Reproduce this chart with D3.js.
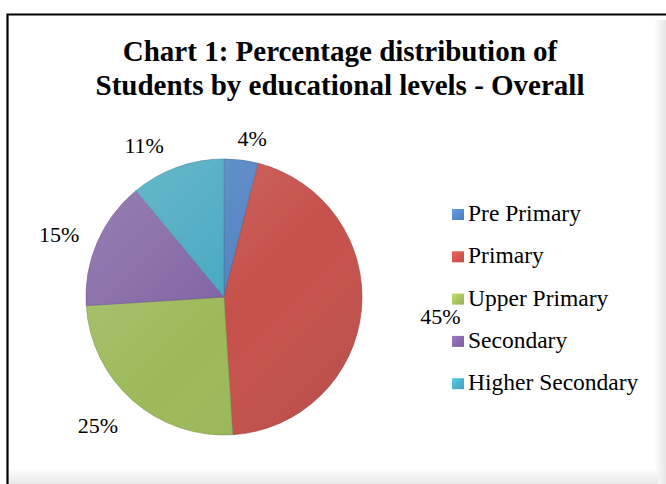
<!DOCTYPE html>
<html>
<head>
<meta charset="utf-8">
<script src="https://cdn.jsdelivr.net/npm/d3@7"></script>
<style>
  body { margin: 0; background: #fff; }
  text { font-family: 'Liberation Serif', 'Times New Roman', serif; fill: #000; }
</style>
</head>
<body>
<div id="vis"></div>
<script>
// chart data
var categories = ['Pre Primary', 'Primary', 'Upper Primary', 'Secondary', 'Higher Secondary'];
var values = [4, 45, 25, 15, 11];
var colors = ['#5589cd', '#d1544f', '#a5c35f', '#8868ad', '#4bb1cc'];
var titleLines = ['Chart 1: Percentage distribution of', 'Students by educational levels - Overall'];

var width = 666;
var height = 484;
var center = { x: 224, y: 297 };
var radius = 138;

// labels were dragged around a bit in the original, these shift them from outside-end
var labelNudge = [[7, 5], [43, 3], [-11, 4], [-5, 3], [-21, 3]];

var svg = d3.select('#vis')
  .append('svg')
  .attr('width', width)
  .attr('height', height);

var defs = svg.append('defs');

// soft shadow along right and bottom edges of the chart frame
var shadowR = defs.append('linearGradient').attr('id', 'shadowR').attr('x1', 0).attr('x2', 1);
shadowR.append('stop').attr('offset', 0).attr('stop-color', '#fff');
shadowR.append('stop').attr('offset', 1).attr('stop-color', '#e6e6e6');
var shadowB = defs.append('linearGradient').attr('id', 'shadowB').attr('x1', 0).attr('x2', 0).attr('y1', 0).attr('y2', 1);
shadowB.append('stop').attr('offset', 0).attr('stop-color', '#fff');
shadowB.append('stop').attr('offset', 1).attr('stop-color', '#e9e9e9');

svg.append('rect')
  .attr('x', 654).attr('y', 20)
  .attr('width', 12).attr('height', 464)
  .attr('fill', 'url(#shadowR)');
svg.append('rect')
  .attr('x', 8).attr('y', 468)
  .attr('width', 650).attr('height', 16)
  .attr('fill', 'url(#shadowB)');

// frame
svg.append('path')
  .attr('d', 'M7.5,' + height + 'V14.5H' + width)
  .attr('fill', 'none')
  .attr('stroke', '#000')
  .attr('stroke-width', 2.2);

// title
svg.append('g')
  .selectAll('text')
  .data(titleLines)
  .enter().append('text')
  .attr('x', 340)
  .attr('y', function (d, i) { return 61 + i * 34; })
  .attr('text-anchor', 'middle')
  .style('font-size', '29px')
  .style('font-weight', 'bold')
  .text(function (d) { return d; });

// slice shading: bright rim on the outside edge, otherwise close to flat
colors.forEach(function (c, i) {
  var g = defs.append('radialGradient')
    .attr('id', 'slice' + i)
    .attr('gradientUnits', 'userSpaceOnUse')
    .attr('cx', center.x).attr('cy', center.y)
    .attr('r', radius);
  g.append('stop').attr('offset', 0).attr('stop-color', d3.rgb(c).darker(0.12));
  g.append('stop').attr('offset', 0.8).attr('stop-color', c);
  g.append('stop').attr('offset', 0.93).attr('stop-color', d3.rgb(c).brighter(0.2));
  g.append('stop').attr('offset', 1).attr('stop-color', d3.rgb(c).darker(0.15));

  var lg = defs.append('linearGradient')
    .attr('id', 'key' + i)
    .attr('x1', 0).attr('y1', 0).attr('x2', 1).attr('y2', 1);
  lg.append('stop').attr('offset', 0).attr('stop-color', d3.rgb(c).brighter(0.4));
  lg.append('stop').attr('offset', 1).attr('stop-color', d3.rgb(c).darker(0.3));
});

var pie = d3.pie().sort(null).value(function (d) { return d; });
var arcs = pie(values);
var arc = d3.arc().innerRadius(0).outerRadius(radius);

var pieG = svg.append('g')
  .attr('transform', 'translate(' + center.x + ',' + center.y + ')');

pieG.selectAll('path')
  .data(arcs)
  .enter().append('path')
  .attr('d', arc)
  .attr('fill', function (d, i) { return 'url(#slice' + i + ')'; })
  .attr('stroke', function (d, i) { return d3.rgb(colors[i]).darker(0.8); })
  .attr('stroke-width', 0.6);

// faint light top-left to shaded bottom-right over the whole pie
var hl = defs.append('linearGradient').attr('id', 'hl')
  .attr('x1', 0).attr('y1', 0).attr('x2', 1).attr('y2', 1);
hl.append('stop').attr('offset', 0).attr('stop-color', '#fff').attr('stop-opacity', 0.2);
hl.append('stop').attr('offset', 0.55).attr('stop-color', '#fff').attr('stop-opacity', 0);
hl.append('stop').attr('offset', 1).attr('stop-color', '#000').attr('stop-opacity', 0.12);
pieG.append('circle').attr('r', radius).attr('fill', 'url(#hl)');

// percentage labels, outside end of each slice then nudged
var gap = 16;
pieG.selectAll('.pct')
  .data(arcs)
  .enter().append('text')
  .attr('class', 'pct')
  .attr('text-anchor', 'middle')
  .style('font-size', '22px')
  .text(function (d) { return d.value + '%'; })
  .each(function (d, i) {
    var a = (d.startAngle + d.endAngle) / 2;
    var box = this.getBBox();
    var sx = Math.sin(a), sy = -Math.cos(a);
    var cx = (radius + gap) * sx + sx * box.width / 2;
    var cy = (radius + gap) * sy + sy * 11;
    d3.select(this)
      .attr('x', cx + labelNudge[i][0])
      .attr('y', cy + 8 + labelNudge[i][1]);
  });

// legend
var legend = svg.append('g')
  .selectAll('g')
  .data(categories)
  .enter().append('g')
  .attr('transform', function (d, i) { return 'translate(452,' + (221 + i * 42.3) + ')'; });

legend.append('rect')
  .attr('x', 0).attr('y', -12)
  .attr('width', 12).attr('height', 11)
  .attr('fill', function (d, i) { return 'url(#key' + i + ')'; });

legend.append('text')
  .attr('x', 16)
  .attr('y', 0)
  .style('font-size', '23.5px')
  .text(function (d) { return d; });
</script>
</body>
</html>
